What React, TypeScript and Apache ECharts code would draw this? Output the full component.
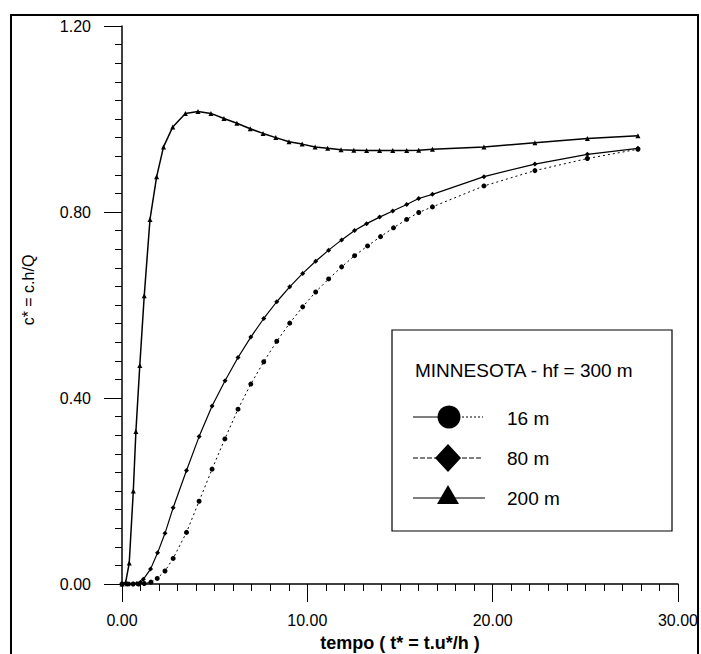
import React, { useEffect, useRef } from "react";
import * as echarts from "echarts";

// ---- data ----
const xTicks = [0, 10, 20, 30];
const yTicks = [0, 0.4, 0.8, 1.2];

// 200 m (fastest rise, solid, triangles)
const t200 = [0, 0.2, 0.39, 0.61, 0.75, 0.96, 1.2, 1.51, 1.87, 2.24, 2.74, 3.42, 4.1, 4.8, 5.5, 6.2, 6.92, 7.61, 8.3, 9.01, 9.72, 10.42, 11.1, 11.82, 12.51, 13.2, 13.9, 14.61, 15.36, 16.01, 16.75, 19.53, 22.28, 25.11, 27.84];
const c200 = [0, 0.004, 0.045, 0.2, 0.328, 0.47, 0.62, 0.784, 0.876, 0.94, 0.983, 1.012, 1.016, 1.012, 1.001, 0.991, 0.979, 0.969, 0.96, 0.951, 0.946, 0.94, 0.937, 0.934, 0.933, 0.932, 0.932, 0.932, 0.932, 0.933, 0.935, 0.94, 0.949, 0.958, 0.964];

// 80 m (middle, diamonds)
const t80 = [0, 0.2, 0.4, 0.6, 0.8, 1.0, 1.15, 1.54, 1.92, 2.32, 2.76, 3.48, 4.16, 4.86, 5.56, 6.26, 6.95, 7.65, 8.35, 9.05, 9.75, 10.45, 11.15, 11.85, 12.55, 13.2, 13.9, 14.61, 15.36, 16.01, 16.75, 19.53, 22.28, 25.11, 27.84];
const c80 = [0, 0, 0, 0, 0.001, 0.004, 0.01, 0.032, 0.067, 0.109, 0.164, 0.244, 0.317, 0.383, 0.437, 0.487, 0.531, 0.571, 0.607, 0.639, 0.668, 0.694, 0.718, 0.74, 0.76, 0.775, 0.789, 0.802, 0.816, 0.829, 0.838, 0.876, 0.903, 0.924, 0.937];

// 16 m (slowest, dotted, circles)
const t16 = [0, 0.3, 0.6, 0.9, 1.2, 1.56, 1.9, 2.32, 2.76, 3.48, 4.16, 4.86, 5.55, 6.26, 6.95, 7.65, 8.35, 9.05, 9.75, 10.45, 11.15, 11.85, 12.55, 13.25, 13.95, 14.65, 15.36, 16.01, 16.75, 19.53, 22.28, 25.11, 27.84];
const c16 = [0, 0, 0, 0, 0.001, 0.004, 0.012, 0.028, 0.055, 0.111, 0.178, 0.247, 0.312, 0.376, 0.43, 0.478, 0.522, 0.561, 0.596, 0.628, 0.656, 0.682, 0.706, 0.727, 0.747, 0.766, 0.784, 0.799, 0.811, 0.856, 0.889, 0.915, 0.935];

const legendTitle = "MINNESOTA - hf = 300 m";
const seriesNames = ["16 m", "80 m", "200 m"];
const xName = "tempo ( t* = t.u*/h )";
const yName = "c* = c.h/Q";

const FONT = "'Liberation Sans', Arial, sans-serif";
const BLACK = "#000";

function pairs(t: number[], c: number[]) {
  return t.map((x, i) => [x, c[i]]);
}

export default function App() {
  const ref = useRef<HTMLDivElement>(null);
  useEffect(() => {
    if (!ref.current) return;
    const chart = echarts.init(ref.current, undefined, { renderer: "svg" });
    const axisCommon = {
      axisLine: { show: true, onZero: false, lineStyle: { color: BLACK, width: 1.5 } },
      axisTick: { show: true, inside: false, length: 18, lineStyle: { color: BLACK, width: 1 } },
      minorTick: { show: true, splitNumber: 10, length: 7, lineStyle: { color: BLACK, width: 1 } },
      splitLine: { show: false },
      minorSplitLine: { show: false },
    };
    const option: any = {
      animation: false,
      backgroundColor: "#fff",
      grid: { left: 122, right: 22, top: 26, bottom: 70 },
      xAxis: {
        type: "value",
        min: xTicks[0],
        max: xTicks[xTicks.length - 1],
        interval: 10,
        ...axisCommon,
        axisLabel: {
          color: BLACK,
          fontSize: 16,
          fontFamily: FONT,
          margin: 28,
          formatter: (v: number) => v.toFixed(2),
        },
      },
      yAxis: {
        type: "value",
        min: yTicks[0],
        max: yTicks[yTicks.length - 1],
        interval: 0.4,
        ...axisCommon,
        axisLabel: {
          color: BLACK,
          fontSize: 16,
          fontFamily: FONT,
          margin: 31,
          formatter: (v: number) => v.toFixed(2),
        },
      },
      series: [
        {
          name: seriesNames[0],
          type: "line",
          data: pairs(t16, c16),
          symbol: "circle",
          symbolSize: 5,
          itemStyle: { color: BLACK },
          lineStyle: { color: BLACK, width: 1, type: [2, 3] },
        },
        {
          name: seriesNames[1],
          type: "line",
          data: pairs(t80, c80),
          symbol: "diamond",
          symbolSize: 5,
          itemStyle: { color: BLACK },
          lineStyle: { color: BLACK, width: 1.2 },
        },
        {
          name: seriesNames[2],
          type: "line",
          data: pairs(t200, c200),
          symbol: "triangle",
          symbolSize: 5,
          itemStyle: { color: BLACK },
          lineStyle: { color: BLACK, width: 1.5 },
        },
      ],
      graphic: [
        {
          type: "rect",
          shape: { x: 11, y: 15, width: 687, height: 700 },
          style: { fill: "none", stroke: BLACK, lineWidth: 2 },
          silent: true,
        },
        {
          type: "text",
          x: 28,
          y: 290,
          rotation: Math.PI / 2,
          style: {
            text: yName,
            fontSize: 16,
            fontFamily: FONT,
            fill: BLACK,
            textAlign: "center",
            textVerticalAlign: "middle",
          },
        },
        {
          type: "text",
          x: 400,
          y: 643,
          style: {
            text: xName,
            fontSize: 18,
            fontWeight: "bold",
            fontFamily: FONT,
            fill: BLACK,
            textAlign: "center",
            textVerticalAlign: "middle",
          },
        },
        // legend box
        {
          type: "rect",
          z: 100,
          shape: { x: 392, y: 330, width: 280, height: 201 },
          style: { fill: "#fff", stroke: BLACK, lineWidth: 1.2 },
        },
        {
          type: "text",
          z: 101,
          x: 415,
          y: 370,
          style: { text: legendTitle, fontSize: 19, fontFamily: FONT, fill: BLACK, textVerticalAlign: "middle" },
        },
        // 16 m
        { type: "line", z: 101, shape: { x1: 413, y1: 417, x2: 440, y2: 417 }, style: { stroke: BLACK, lineWidth: 1 } },
        { type: "line", z: 101, shape: { x1: 458, y1: 417, x2: 483, y2: 417 }, style: { stroke: BLACK, lineWidth: 1, lineDash: [2, 2] } },
        { type: "circle", z: 102, shape: { cx: 449, cy: 417, r: 11.5 }, style: { fill: BLACK } },
        { type: "text", z: 101, x: 507, y: 418, style: { text: seriesNames[0], fontSize: 19, fontFamily: FONT, fill: BLACK, textVerticalAlign: "middle" } },
        // 80 m
        { type: "line", z: 101, shape: { x1: 413, y1: 458, x2: 483, y2: 458 }, style: { stroke: BLACK, lineWidth: 1, lineDash: [5, 2] } },
        { type: "polygon", z: 102, shape: { points: [[448, 444], [461, 458], [448, 472], [435, 458]] }, style: { fill: BLACK } },
        { type: "text", z: 101, x: 507, y: 458, style: { text: seriesNames[1], fontSize: 19, fontFamily: FONT, fill: BLACK, textVerticalAlign: "middle" } },
        // 200 m
        { type: "line", z: 101, shape: { x1: 413, y1: 498, x2: 485, y2: 498 }, style: { stroke: BLACK, lineWidth: 1.2 } },
        { type: "polygon", z: 102, shape: { points: [[448, 485], [459, 504], [437, 504]] }, style: { fill: BLACK } },
        { type: "text", z: 101, x: 507, y: 498, style: { text: seriesNames[2], fontSize: 19, fontFamily: FONT, fill: BLACK, textVerticalAlign: "middle" } },
      ],
    };
    chart.setOption(option);
    return () => chart.dispose();
  }, []);
  return (
    <div
      ref={ref}
      style={{ position: "fixed", left: 0, top: 0, width: 701, height: 654, background: "#fff" }}
    />
  );
}
